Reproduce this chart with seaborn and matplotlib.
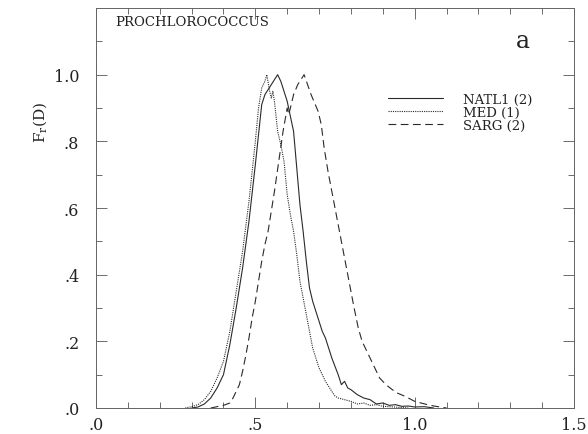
import matplotlib
matplotlib.use("Agg")
import matplotlib.pyplot as plt
import seaborn as sns
import pandas as pd
import numpy as np
from matplotlib.ticker import MultipleLocator, FixedLocator, FixedFormatter
from matplotlib.lines import Line2D

# ---- data ----
natl1_d = [0.30, 0.32, 0.34, 0.36, 0.38, 0.40, 0.42, 0.44, 0.46, 0.48, 0.50, 0.52, 0.53, 0.55, 0.57,
           0.58, 0.60, 0.62, 0.63, 0.64, 0.65, 0.66, 0.67, 0.68, 0.69, 0.70, 0.71, 0.72, 0.74, 0.76,
           0.77, 0.78, 0.79, 0.80, 0.82, 0.84, 0.86, 0.88, 0.90, 0.92, 0.94, 0.96, 0.98, 1.00, 1.03, 1.06]
natl1_f = [0.0, 0.003, 0.012, 0.03, 0.06, 0.10, 0.19, 0.30, 0.42, 0.56, 0.73, 0.91, 0.94, 0.97, 1.0,
           0.98, 0.92, 0.83, 0.72, 0.61, 0.53, 0.44, 0.36, 0.32, 0.29, 0.26, 0.23, 0.21, 0.15, 0.10,
           0.07, 0.08, 0.06, 0.055, 0.04, 0.03, 0.025, 0.012, 0.015, 0.008, 0.01, 0.005, 0.006, 0.003, 0.004, 0.0]

med_d = [0.28, 0.30, 0.32, 0.34, 0.36, 0.38, 0.40, 0.42, 0.44, 0.46, 0.48, 0.50, 0.51, 0.52, 0.53,
         0.536, 0.545, 0.55, 0.555, 0.56, 0.57, 0.58, 0.59, 0.60, 0.61, 0.62, 0.63, 0.64, 0.65, 0.66,
         0.67, 0.68, 0.70, 0.72, 0.74, 0.75, 0.76, 0.78, 0.80, 0.82, 0.84, 0.86, 0.88, 0.90, 0.92, 0.95, 0.98]
med_f = [0.0, 0.004, 0.01, 0.025, 0.05, 0.09, 0.14, 0.23, 0.35, 0.47, 0.62, 0.80, 0.90, 0.96, 0.98,
         1.0, 0.95, 0.93, 0.95, 0.92, 0.83, 0.79, 0.74, 0.64, 0.58, 0.53, 0.46, 0.38, 0.33, 0.28,
         0.23, 0.18, 0.12, 0.08, 0.05, 0.036, 0.03, 0.025, 0.02, 0.012, 0.015, 0.008, 0.01, 0.005, 0.004, 0.002, 0.0]

sarg_d = [0.36, 0.38, 0.40, 0.42, 0.43, 0.44, 0.45, 0.46, 0.47, 0.48, 0.49, 0.50, 0.51, 0.52, 0.53,
          0.54, 0.55, 0.56, 0.575, 0.587, 0.60, 0.605, 0.62, 0.633, 0.653, 0.675, 0.697, 0.707, 0.716, 0.728,
          0.748, 0.77, 0.79, 0.81, 0.823, 0.835, 0.85, 0.865, 0.89, 0.91, 0.927, 0.945, 0.965, 0.98, 1.00,
          1.02, 1.04, 1.06, 1.08, 1.10]
sarg_f = [0.0, 0.004, 0.008, 0.015, 0.03, 0.05, 0.07, 0.11, 0.157, 0.21, 0.27, 0.32, 0.38, 0.44, 0.49,
          0.53, 0.59, 0.65, 0.75, 0.83, 0.90, 0.88, 0.94, 0.97, 1.0, 0.94, 0.89, 0.85, 0.78, 0.71,
          0.61, 0.50, 0.40, 0.30, 0.24, 0.20, 0.17, 0.14, 0.09, 0.07, 0.057, 0.045, 0.037, 0.03, 0.02,
          0.015, 0.01, 0.006, 0.003, 0.0]

series_names = ["NATL1 (2)", "MED (1)", "SARG (2)"]
x_tick_vals = [0.0, 0.5, 1.0, 1.5]
x_tick_labels = [".0", ".5", "1.0", "1.5"]
y_tick_vals = [0.0, 0.2, 0.4, 0.6, 0.8, 1.0]
y_tick_labels = [".0", ".2", ".4", ".6", ".8", "1.0"]

df = pd.concat([
    pd.DataFrame({"D": natl1_d, "F": natl1_f, "series": series_names[0]}),
    pd.DataFrame({"D": med_d, "F": med_f, "series": series_names[1]}),
    pd.DataFrame({"D": sarg_d, "F": sarg_f, "series": series_names[2]}),
], ignore_index=True)

sns.set_theme(style="ticks")
plt.rcParams["font.family"] = ["DejaVu Serif"]
plt.rcParams["mathtext.fontset"] = "dejavuserif"

fig = plt.figure(figsize=(5.88, 4.35), dpi=100)
ax = fig.add_axes([96/588, 1-409/435, (574-96)/588, (409-9)/435])

ink = "#2a2a2a"
dashes = {series_names[0]: "", series_names[1]: (1, 1), series_names[2]: (7, 4)}
sns.lineplot(data=df, x="D", y="F", hue="series", style="series",
             palette={n: ink for n in series_names}, dashes=dashes,
             linewidth=0.8, ax=ax, legend=False, sort=False, estimator=None)

ax.set_xlim(0, 1.5)
ax.set_ylim(0, 1.2)
ax.xaxis.set_major_locator(FixedLocator(x_tick_vals))
ax.xaxis.set_major_formatter(FixedFormatter(x_tick_labels))
ax.yaxis.set_major_locator(FixedLocator(y_tick_vals))
ax.yaxis.set_major_formatter(FixedFormatter(y_tick_labels))
ax.xaxis.set_minor_locator(MultipleLocator(0.1))
ax.yaxis.set_minor_locator(MultipleLocator(0.1))
ax.tick_params(which="both", direction="in", top=True, right=True, color="#555555", width=0.6)
ax.tick_params(which="major", length=8)
ax.tick_params(which="minor", length=4)
ax.tick_params(axis="x", which="major", pad=6, labelsize=11.5, labelcolor="#222222")
ax.tick_params(axis="y", which="major", pad=12, labelsize=11.5, labelcolor="#222222")
for sp in ax.spines.values():
    sp.set_linewidth(0.7)
    sp.set_color("#666666")
    sp.set_linestyle((0, (2, 0.6)))
ax.set_xlabel("")
ax.set_ylabel("")

ax.text(115/588, 1-23/435, "PROCHLOROCOCCUS", transform=fig.transFigure,
        fontsize=9.5, ha="left", va="center", color="#222222")
ax.text(523/588, 1-42/435, "a", transform=fig.transFigure,
        fontsize=17, ha="center", va="center", color="#222222")
fig.text(40/588, 1-122/435, r"F$_\mathrm{r}$(D)", rotation=90, fontsize=11,
         ha="center", va="center", color="#222222")

# legend
handles = [Line2D([], [], color=ink, lw=0.8, linestyle="-"),
           Line2D([], [], color=ink, lw=0.8, linestyle=(0, (1, 1))),
           Line2D([], [], color=ink, lw=0.8, linestyle=(0, (7, 4)))]
leg = ax.legend(handles, series_names, loc="upper left",
                bbox_to_anchor=((388-96)/478, (409-94)/400), frameon=False,
                fontsize=9.5, handlelength=4.2, handletextpad=1.5, labelspacing=0.0,
                borderpad=0, borderaxespad=0)
for t in leg.get_texts():
    t.set_color("#222222")

fig.savefig("out.png", dpi=100)
